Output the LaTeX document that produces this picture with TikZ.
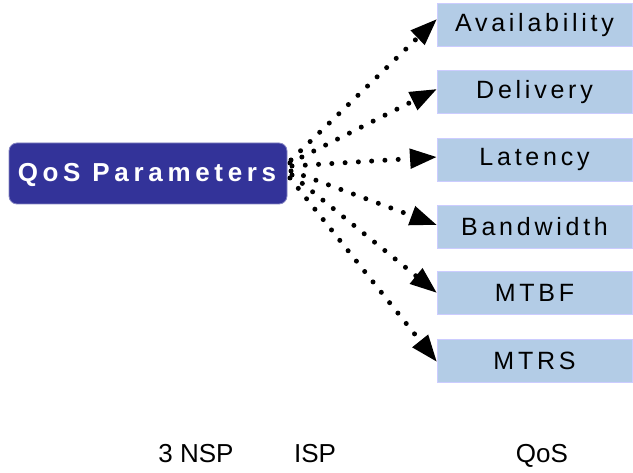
\documentclass[tikz,border=0pt]{standalone}
\usepackage{fontspec}
\setmainfont{Liberation Sans}
\newfontfamily\spacedfont[LetterSpace=15]{Liberation Sans}
\newfontfamily\spacedbold[LetterSpace=18]{Liberation Sans Bold}
\usetikzlibrary{arrows.meta}
\definecolor{hubblue}{HTML}{333399}
\definecolor{itemfill}{HTML}{B3CCE6}
\definecolor{itemedge}{HTML}{CCCCFF}
\tikzset{
  hub/.style={draw=hubblue!60, line width=0.8pt, fill=hubblue, rounded corners=8pt,
    minimum width=278pt, minimum height=61pt, text=white, inner sep=0pt},
  hubtext/.style={text=white, inner sep=0pt,
    font=\spacedbold\fontsize{26}{29}\selectfont},
  item/.style={draw=itemedge, line width=0.8pt, fill=itemfill,
    minimum width=195pt, minimum height=43pt, inner sep=0pt,
    font=\spacedfont\fontsize{25}{28}\selectfont},
  caption/.style={font=\fontsize{26}{29}\selectfont, anchor=base, inner sep=0pt},
  link/.style={line width=5pt, line cap=round, dash pattern=on 0pt off 13.3pt,
    -{Triangle[length=27pt,width=19pt]}, shorten >=0pt},
}
\begin{document}
\begin{tikzpicture}[x=1pt,y=-1pt]
\useasboundingbox (0,0) rectangle (633,473);
\node[hub] (qos) at (148,173.5) {};
\node[hubtext] (qostext) at (147,175) {QoS Parameters};
\node[item] (avail) at (534.5,25)  {Availability};
\node[item] (deliv) at (534.5,92)  {Delivery};
\node[item] (lat)   at (534.5,159.5) {Latency};
\node[item] (bw)    at (534.5,226.5) {Bandwidth};
\node[item] (mtbf)  at (534.5,293) {MTBF};
\node[item] (mtrs)  at (534.5,360.5) {MTRS};
% start points along the hub's right edge
\coordinate (s1) at (291,160);
\coordinate (s2) at (290,163);
\coordinate (s3) at (292,166);
\coordinate (s4) at (291,171);
\coordinate (s5) at (292,175);
\coordinate (s6) at (290,178);
% arrow tips on the item boxes' left edge
\coordinate (t1) at (437,19);
\coordinate (t2) at (437,89);
\coordinate (t3) at (437,157);
\coordinate (t4) at (437,225);
\coordinate (t5) at (437,293);
\coordinate (t6) at (437,362);
\draw[link] (s1) -- (t1);
\draw[link] (s2) -- (t2);
\draw[link] (s3) -- (t3);
\draw[link] (s4) -- (t4);
\draw[link] (s5) -- (t5);
\draw[link] (s6) -- (t6);
\node[caption] (nsp) at (196,463) {3 NSP};
\node[caption] (isp) at (315,463) {ISP};
\node[caption] (qlab) at (542,463) {QoS};
\end{tikzpicture}
\end{document}
